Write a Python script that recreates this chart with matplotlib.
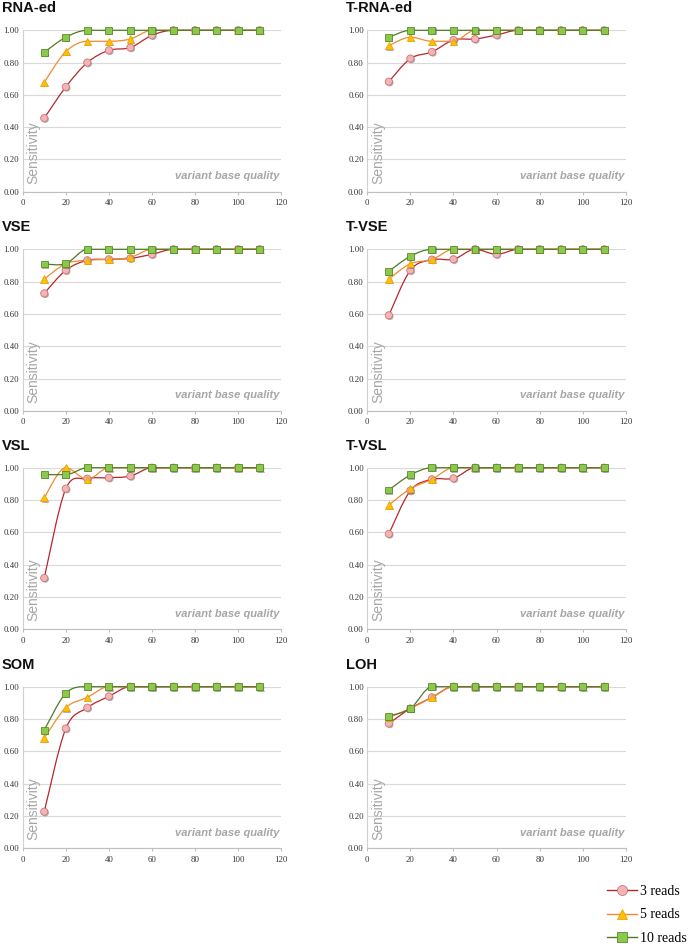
"""Sensitivity vs variant base quality, 8 panels (3/5/10 supporting reads)."""

import matplotlib

matplotlib.use("Agg")
import matplotlib.pyplot as plt
import numpy as np
from matplotlib.lines import Line2D
from matplotlib.patches import PathPatch
from matplotlib.path import Path
import matplotlib.patheffects as pe

QUALITY = [10, 20, 30, 40, 50, 60, 70, 80, 90, 100, 110]
READS = ["3 reads", "5 reads", "10 reads"]

RNA_ED_3 = [0.456, 0.649, 0.800, 0.876, 0.893, 0.969, 1, 1, 1, 1, 1]
RNA_ED_5 = [0.678, 0.868, 0.932, 0.932, 0.946, 1, 1, 1, 1, 1, 1]
RNA_ED_10 = [0.864, 0.957, 1, 1, 1, 1, 1, 1, 1, 1, 1]

T_RNA_ED_3 = [0.682, 0.825, 0.866, 0.940, 0.946, 0.971, 1, 1, 1, 1, 1]
T_RNA_ED_5 = [0.905, 0.957, 0.932, 0.932, 1, 1, 1, 1, 1, 1, 1]
T_RNA_ED_10 = [0.957, 1, 1, 1, 1, 1, 1, 1, 1, 1, 1]

VSE_3 = [0.727, 0.870, 0.932, 0.938, 0.944, 0.969, 1, 1, 1, 1, 1]
VSE_5 = [0.816, 0.911, 0.932, 0.938, 0.950, 1, 1, 1, 1, 1, 1]
VSE_10 = [0.909, 0.911, 1, 1, 1, 1, 1, 1, 1, 1, 1]

T_VSE_3 = [0.591, 0.870, 0.936, 0.938, 1, 0.969, 1, 1, 1, 1, 1]
T_VSE_5 = [0.816, 0.911, 0.936, 1, 1, 1, 1, 1, 1, 1, 1]
T_VSE_10 = [0.864, 0.957, 1, 1, 1, 1, 1, 1, 1, 1, 1]

VSL_3 = [0.317, 0.870, 0.932, 0.938, 0.948, 1, 1, 1, 1, 1, 1]
VSL_5 = [0.814, 1, 0.928, 1, 1, 1, 1, 1, 1, 1, 1]
VSL_10 = [0.957, 0.957, 1, 1, 1, 1, 1, 1, 1, 1, 1]

T_VSL_3 = [0.590, 0.858, 0.928, 0.934, 1, 1, 1, 1, 1, 1, 1]
T_VSL_5 = [0.769, 0.870, 0.928, 1, 1, 1, 1, 1, 1, 1, 1]
T_VSL_10 = [0.862, 0.955, 1, 1, 1, 1, 1, 1, 1, 1, 1]

SOM_3 = [0.226, 0.741, 0.870, 0.940, 1, 1, 1, 1, 1, 1, 1]
SOM_5 = [0.681, 0.870, 0.934, 1, 1, 1, 1, 1, 1, 1, 1]
SOM_10 = [0.731, 0.959, 1, 1, 1, 1, 1, 1, 1, 1, 1]

LOH_3 = [0.772, 0.865, 0.934, 1, 1, 1, 1, 1, 1, 1, 1]
LOH_5 = [0.810, 0.865, 0.934, 1, 1, 1, 1, 1, 1, 1, 1]
LOH_10 = [0.818, 0.865, 1, 1, 1, 1, 1, 1, 1, 1, 1]

PANELS = [
    ("RNA-ed", [RNA_ED_3, RNA_ED_5, RNA_ED_10]),
    ("T-RNA-ed", [T_RNA_ED_3, T_RNA_ED_5, T_RNA_ED_10]),
    ("VSE", [VSE_3, VSE_5, VSE_10]),
    ("T-VSE", [T_VSE_3, T_VSE_5, T_VSE_10]),
    ("VSL", [VSL_3, VSL_5, VSL_10]),
    ("T-VSL", [T_VSL_3, T_VSL_5, T_VSL_10]),
    ("SOM", [SOM_3, SOM_5, SOM_10]),
    ("LOH", [LOH_3, LOH_5, LOH_10]),
]

STYLES = [
    dict(line="#B8262B", marker="o", face="#F4B4B6", edge="#C97577", ms=5.2),
    dict(line="#F08A2E", marker="^", face="#FFC000", edge="#E8A317", ms=5.4),
    dict(line="#4F7A28", marker="s", face="#8CC84B", edge="#5B8C2C", ms=5.0),
]

SERIF = "Liberation Serif"
SANS = "Liberation Sans"


def smooth_path(x, y):
    """Smoothed line through the points (cubic Beziers, flat where the data is flat)."""
    pts = np.column_stack([x, y]).astype(float)
    n = len(pts)
    tang = np.zeros_like(pts)
    for i in range(n):
        p0 = pts[max(i - 1, 0)]
        p2 = pts[min(i + 1, n - 1)]
        tang[i] = (p2 - p0) / 2
        if 0 < i < n - 1:
            s1 = pts[i, 1] - pts[i - 1, 1]
            s2 = pts[i + 1, 1] - pts[i, 1]
            if s1 * s2 <= 0:
                tang[i, 1] = 0.0
    verts = [pts[0]]
    codes = [Path.MOVETO]
    for i in range(n - 1):
        p1, p2 = pts[i], pts[i + 1]
        verts += [p1 + tang[i] / 3, p2 - tang[i + 1] / 3, p2]
        codes += [Path.CURVE4] * 3
    return Path(verts, codes)


fig = plt.figure(figsize=(6.91, 9.44), dpi=100)

LEFTS = [22.7, 367.3]
WIDTH = 258.5
TOPS = [30.3, 249.3, 467.7, 686.7]
HEIGHT = 161.5
W, H = 691.0, 944.0

shadow = [pe.SimplePatchShadow(offset=(0.8, -0.8), shadow_rgbFace="#555555", alpha=0.45), pe.Normal()]

for k, (title, series) in enumerate(PANELS):
    row, col = divmod(k, 2)
    left = LEFTS[col]
    top = TOPS[row]
    ax = fig.add_axes([left / W, 1 - (top + HEIGHT) / H, WIDTH / W, HEIGHT / H])
    ax.set_xlim(0, 120)
    ax.set_ylim(0, 1.0)
    ax.set_xticks(range(0, 121, 20))
    ax.set_yticks(np.arange(0, 1.01, 0.2))
    ax.set_yticklabels([f"{v:.2f}" for v in np.arange(0, 1.01, 0.2)])
    ax.grid(axis="y", color="#D9D9D9", linewidth=0.8)
    ax.set_axisbelow(True)
    for side in ["top", "right"]:
        ax.spines[side].set_visible(False)
    ax.spines["bottom"].set_color("#BFBFBF")
    ax.spines["left"].set_color("#D0D0D0")
    ax.tick_params(axis="x", length=2.5, color="#BFBFBF", labelsize=6.3, labelcolor="#333333", pad=3)
    ax.tick_params(axis="y", length=0, labelsize=6.3, labelcolor="#333333", pad=2.5)
    for lab in ax.get_xticklabels() + ax.get_yticklabels():
        lab.set_fontfamily(SERIF)

    for vals, st in zip(series, STYLES):
        ax.add_patch(PathPatch(smooth_path(QUALITY, vals), facecolor="none",
                               edgecolor=st["line"], linewidth=0.9, clip_on=False, zorder=3))
        ax.plot(QUALITY, vals, linestyle="none", marker=st["marker"], markersize=st["ms"],
                markerfacecolor=st["face"], markeredgecolor=st["edge"], markeredgewidth=0.6,
                clip_on=False, zorder=4, path_effects=shadow)

    fig.text((left - 21) / W, 1 - (top - 22) / H, title, fontsize=10.5, fontweight="bold",
             fontfamily=SANS, ha="left", va="center", color="#111111")
    ax.text(0.042, 0.05, "Sensitivity", transform=ax.transAxes, rotation=90, ha="center",
            va="bottom", fontsize=10, color="#A6A6A6", fontfamily=SANS)
    ax.text(0.995, 0.095, "variant base quality", transform=ax.transAxes, ha="right",
            va="center", fontsize=8, color="#A6A6A6", fontstyle="italic", fontweight="bold",
            fontfamily=SANS)

handles = [
    Line2D([], [], color=st["line"], linewidth=1.0, marker=st["marker"], markersize=st["ms"] + 2,
           markerfacecolor=st["face"], markeredgecolor=st["edge"], markeredgewidth=0.6)
    for st in STYLES
]
leg = fig.legend(handles, READS, loc="upper left", bbox_to_anchor=(601 / W, 1 - 879 / H),
                 frameon=False, prop={"family": SERIF, "size": 10}, handlelength=2.2,
                 handletextpad=0.2, labelspacing=0.78, borderaxespad=0)

fig.savefig("out.png", dpi=100)
